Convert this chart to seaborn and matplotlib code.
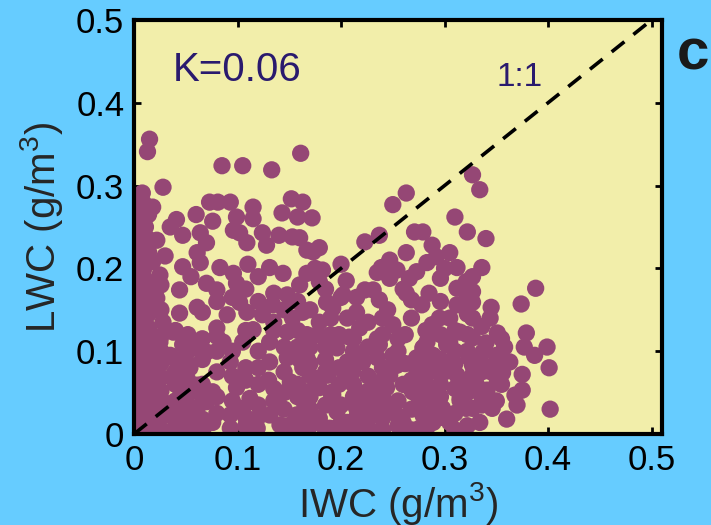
import matplotlib
matplotlib.use("Agg")
import matplotlib.pyplot as plt
import seaborn as sns
import pandas as pd

# ---- data (IWC, LWC in g/m^3) ----
iwc = [
 0.015,0.013,0.085,0.105,0.133,0.161,0.028,0.073,0.081,0.093,0.115,0.152,0.163,0.143,0.158,
 0.076,0.099,0.096,0.102,0.109,0.124,0.128,0.153,0.167,0.041,0.035,0.047,0.022,0.064,0.070,
 0.061,0.047,0.064,0.083,0.096,0.131,0.144,0.018,0.009,0.008,0.009,0.018,0.011,0.006,
 0.172,0.250,0.263,0.310,0.322,0.327,0.334,0.223,0.237,0.271,0.279,0.288,0.263,0.247,0.239,
 0.254,0.305,0.312,0.292,0.283,0.273,0.173,0.179,0.182,0.167,0.160,
 0.340,0.336,0.327,
 0.388,0.374,0.379,0.377,0.399,0.387,0.401,0.363,0.375,0.356,0.375,0.368,0.370,0.346,0.360,
 0.402,0.334,0.351,0.345,0.344,0.351,0.358,0.337,0.327,0.331,0.341,0.327,0.327,0.327,0.327,
 0.163,0.177,0.196,0.218,0.208,0.231,0.237,0.223,0.192,0.186,0.250,0.262,0.268,0.278,0.263,
 0.237,0.254,0.247,0.235,0.211,0.221,0.206,0.187,0.179,0.167,0.192,0.163,0.179,0.206,0.215,
 0.225,0.234,0.244,0.263,0.254,0.260,0.279,0.289,0.305,0.298,0.321,0.315,0.327,0.312,0.298,
 0.286,0.289,0.302,0.279,0.273,0.273,0.283,0.288,0.305,0.312,0.312,0.321,0.327,0.315,0.324,
 0.303,0.317,0.292,0.276,0.269,0.240,0.225,0.196,0.170,0.167,0.167,0.179,0.206,0.215,0.202,
 0.179,0.247,0.266,0.296,0.321,
 0.044,0.061,0.066,0.044,0.080,0.070,0.099,0.102,0.109,0.105,0.115,0.124,0.134,0.148,0.160,
 0.153,0.148,0.131,0.131,0.151,0.163,0.148,0.157,0.131,0.141,0.119,0.105,0.093,0.070,0.080,
 0.093,0.070,0.076,0.054,0.035,0.028,0.015,0.009,0.006,0.006,0.006,0.006,0.006,0.022,0.028,
 0.025,0.035,0.047,0.061,0.054,0.038,0.022,0.015,0.044,0.061,0.076,0.099,0.112,0.061,0.086,
 0.080,0.090,0.038,0.022,0.003,0.041,0.067,0.093,0.119,0.151,
 0.189,0.228,0.276,0.310,0.006,0.011,0.025,
 # dense core
 0.004,0.004,0.004,0.004,0.004,0.004,0.004,0.004,0.004,0.004,0.004,0.004,0.004,0.004,0.004,0.004,
 0.014,0.014,0.014,0.014,0.014,0.014,0.014,0.014,0.014,0.014,0.014,0.014,0.014,0.014,
 0.026,0.026,0.026,0.026,0.026,0.026,0.026,0.026,0.026,0.026,
 0.040,0.040,0.040,0.040,0.040,0.040,0.040,
 0.052,0.052,0.052,0.052,0.052,0.052,0.052,0.052,
 0.066,0.066,0.066,0.066,0.066,
 0.080,0.080,0.080,0.080,0.080,
 0.095,0.095,0.095,0.095,
 0.108,0.108,0.108,0.108,0.108,0.108,
 0.120,0.120,0.120,0.120,
 0.135,0.135,0.135,0.135,0.135,
 0.145,0.145,0.145,0.145,
 0.158,0.158,0.158,0.158,0.158,0.158,
 0.170,0.170,0.170,0.170,0.170,0.170,
 0.185,0.185,0.185,0.185,
 0.198,0.198,0.198,0.198,
 0.212,0.212,0.212,0.212,0.212,
 0.226,0.226,0.226,0.226,0.226,
 0.240,0.240,0.240,0.240,0.240,0.240,
 0.255,0.255,0.255,0.255,
 0.268,0.268,0.268,0.268,0.268,
 0.282,0.282,0.282,0.282,0.282,
 0.296,0.296,0.296,0.296,0.296,0.296,
 0.310,0.310,0.310,0.310,0.310,
 0.322,0.322,0.322,0.322,0.322,0.322,0.322,
 0.336,0.336,0.336,0.336,0.336,
 0.350,0.350,0.350,
 0.030,0.055,0.110,0.120,0.175,0.185,0.140,0.190,0.200,0.060,0.115,
 0.205,0.215,0.235,0.260,0.285,0.295,0.300,0.245,0.200,
 0.165,0.175,0.190,0.205,0.215,0.230,0.245,0.260,0.262,0.275,0.290,0.300,0.315,0.330,0.345,
 0.355,0.185,0.200,0.220,0.250,0.280,0.305,0.340,0.355,0.235,0.190,0.160,0.145,0.130,0.120,
]
lwc = [
 0.356,0.341,0.324,0.324,0.319,0.339,0.298,0.280,0.280,0.280,0.274,0.284,0.280,0.267,0.262,
 0.257,0.262,0.246,0.243,0.231,0.243,0.228,0.238,0.222,0.259,0.250,0.240,0.234,0.243,0.231,
 0.219,0.202,0.207,0.201,0.194,0.201,0.194,0.208,0.198,0.291,0.279,0.274,0.250,0.243,
 0.261,0.277,0.291,0.262,0.244,0.313,0.295,0.232,0.240,0.244,0.244,0.228,0.219,0.210,0.201,
 0.198,0.219,0.201,0.214,0.207,0.196,0.220,0.225,0.198,0.194,0.237,
 0.236,0.201,0.190,
 0.176,0.157,0.122,0.105,0.105,0.095,0.080,0.087,0.072,0.074,0.053,0.047,0.035,0.031,0.018,
 0.030,0.014,0.063,0.153,0.140,0.122,0.105,0.099,0.083,0.059,0.053,0.031,0.140,0.172,0.116,
 0.147,0.120,0.104,0.128,0.117,0.174,0.162,0.174,0.152,0.159,0.132,0.120,0.162,0.156,0.170,
 0.108,0.083,0.071,0.092,0.075,0.087,0.087,0.071,0.056,0.051,0.047,0.023,0.019,0.014,0.031,
 0.051,0.035,0.056,0.059,0.023,0.014,0.023,0.014,0.014,0.031,0.031,0.043,0.071,0.071,0.075,
 0.075,0.095,0.108,0.104,0.092,0.071,0.111,0.132,0.140,0.156,0.176,0.180,0.159,0.123,0.092,
 0.087,0.056,0.051,0.039,0.051,0.019,0.014,0.027,0.071,0.092,0.120,0.135,0.140,0.147,0.168,
 0.184,0.188,0.188,0.188,0.184,
 0.174,0.153,0.147,0.146,0.174,0.182,0.182,0.159,0.147,0.111,0.126,0.144,0.156,0.168,0.180,
 0.140,0.123,0.111,0.087,0.063,0.080,0.092,0.023,0.023,0.011,0.019,0.031,0.087,0.099,0.075,
 0.023,0.039,0.014,0.014,0.023,0.039,0.031,0.014,0.051,0.080,0.111,0.144,0.172,0.164,0.135,
 0.111,0.095,0.108,0.104,0.080,0.071,0.083,0.063,0.056,0.059,0.051,0.056,0.043,0.031,0.111,
 0.128,0.144,0.123,0.014,0.007,0.007,0.007,0.007,0.007,0.011,
 0.007,0.005,0.007,0.005,0.216,0.186,0.192,
 # dense core
 0.005,0.022,0.038,0.055,0.070,0.088,0.104,0.120,0.136,0.152,0.168,0.185,0.200,0.225,0.260,0.270,
 0.010,0.028,0.045,0.062,0.078,0.095,0.112,0.128,0.145,0.160,0.178,0.220,0.235,0.265,
 0.005,0.020,0.035,0.052,0.068,0.085,0.100,0.118,0.150,0.180,
 0.010,0.025,0.040,0.060,0.075,0.090,0.125,
 0.005,0.020,0.035,0.048,0.065,0.085,0.100,0.120,
 0.018,0.045,0.060,0.090,0.115,
 0.025,0.045,0.100,0.118,0.160,
 0.040,0.070,0.100,0.165,
 0.010,0.020,0.065,0.080,0.125,0.175,
 0.035,0.060,0.100,0.160,
 0.040,0.055,0.125,0.135,0.170,
 0.030,0.075,0.105,0.150,
 0.005,0.045,0.060,0.105,0.125,0.160,
 0.010,0.030,0.045,0.085,0.105,0.150,
 0.005,0.035,0.090,0.105,
 0.010,0.060,0.080,0.120,
 0.005,0.045,0.060,0.100,0.115,
 0.025,0.040,0.070,0.105,0.135,
 0.005,0.045,0.065,0.080,0.120,0.140,
 0.010,0.040,0.100,0.115,
 0.005,0.030,0.065,0.085,0.140,
 0.005,0.045,0.060,0.085,0.125,
 0.020,0.045,0.060,0.090,0.120,0.160,
 0.025,0.055,0.085,0.100,0.125,
 0.010,0.050,0.065,0.100,0.120,0.145,0.165,
 0.035,0.045,0.075,0.085,0.130,
 0.040,0.085,0.095,
 0.215,0.190,0.205,0.190,0.200,0.175,0.240,0.140,0.165,0.265,0.260,
 0.185,0.165,0.195,0.175,0.170,0.140,0.200,0.150,0.205,
 0.035,0.065,0.050,0.075,0.020,0.055,0.030,0.060,0.085,0.045,0.030,0.075,0.040,0.060,0.075,
 0.060,0.075,0.035,0.090,0.095,0.105,0.110,0.110,0.115,0.115,0.120,0.090,0.050,0.065,0.080,
]
k_label = "K=0.06"
one_to_one = [0.0, 0.5]
xticks = [0, 0.1, 0.2, 0.3, 0.4, 0.5]
yticks = [0, 0.1, 0.2, 0.3, 0.4, 0.5]
tick_labels = ["0", "0.1", "0.2", "0.3", "0.4", "0.5"]

df = pd.DataFrame({"IWC": iwc, "LWC": lwc})

sns.set_style("ticks")
plt.rcParams["font.family"] = ["Liberation Sans", "DejaVu Sans"]
plt.rcParams["mathtext.fontset"] = "custom"
plt.rcParams["mathtext.rm"] = "Liberation Sans"

fig = plt.figure(figsize=(7.11, 5.25), dpi=100, facecolor="#66CCFF")
ax = fig.add_axes([0.1885, 0.1733, 0.7425, 0.7887])
ax.set_facecolor("#F2EEAA")

sns.scatterplot(data=df, x="IWC", y="LWC", ax=ax, s=155, color="#954775",
                edgecolor="none", linewidth=0, zorder=2)
ax.plot(one_to_one, one_to_one, color="black", lw=2.6, ls=(0, (4.5, 3.2)), zorder=3)

ax.set_xlim(0, 0.51)
ax.set_ylim(0, 0.5)
ax.set_xticks(xticks)
ax.set_yticks(yticks)
ax.set_xticklabels(tick_labels)
ax.set_yticklabels(tick_labels)
ax.tick_params(direction="in", length=5, width=2, top=True, right=True,
               labelsize=25, colors="black", pad=7)
for sp in ax.spines.values():
    sp.set_linewidth(3)
    sp.set_color("black")
    sp.set_visible(True)

ax.set_xlabel(r"IWC (g/m$^{3}$)", fontsize=29, labelpad=2)
ax.set_ylabel(r"LWC (g/m$^{3}$)", fontsize=29, labelpad=8)

ax.text(0.037, 0.44, k_label, fontsize=29, color="#2A1A6E", va="center", ha="left")
ax.text(0.372, 0.43, "1:1", fontsize=24, color="#2A1A6E", va="center", ha="center")
fig.text(0.974, 0.897, "c", fontsize=42, fontweight="bold", color="#1a1a1a",
         va="center", ha="center")

fig.savefig("out.png", dpi=100, facecolor=fig.get_facecolor())
